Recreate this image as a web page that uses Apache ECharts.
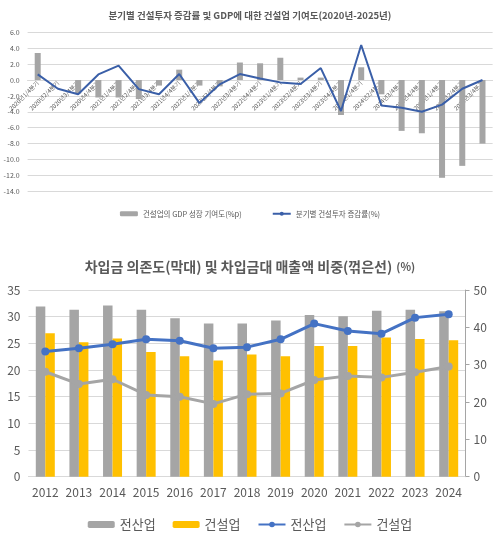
<!DOCTYPE html>
<html><head><meta charset="utf-8">
<script src="https://cdn.jsdelivr.net/npm/echarts@6/dist/echarts.min.js"></script>
<style>html,body{margin:0;padding:0;background:#fff}#c{width:500px;height:542px}</style>
</head><body><div id="c"></div>
<script>
// ---- Top chart data ----
const quarters = ["2020년1/4분기","2020년2/4분기","2020년3/4분기","2020년4/4분기","2021년1/4분기","2021년2/4분기","2021년3/4분기","2021년4/4분기","2022년1/4분기","2022년2/4분기","2022년3/4분기","2022년4/4분기","2023년1/4분기","2023년2/4분기","2023년3/4분기","2023년4/4분기","2024년1/4분기","2024년2/4분기","2024년3/4분기","2024년4/4분기","2025년1/4분기","2025년2/4분기","2025년3/4분기"];
const gdpContribution = [3.4, 0, -1.7, -2.2, -2.2, -2.4, -0.7, 1.3, -0.7, -0.8, 2.2, 2.1, 2.8, 0.3, 0.3, -4.4, 1.6, -1.8, -6.4, -6.7, -12.3, -10.8, -8.0];
const investChange = [0.7, -1.1, -1.8, 0.7, 1.8, -1.15, -1.8, 0.75, -2.9, -0.55, 0.75, 0.2, -0.3, -0.5, 1.5, -3.9, 4.4, -3.2, -3.5, -4.0, -3.1, -1.1, 0.0];
const topTicks = {min:-14, max:6, interval:2};

// ---- Bottom chart data ----
const years = ["2012","2013","2014","2015","2016","2017","2018","2019","2020","2021","2022","2023","2024"];
const debtAll = [31.9, 31.3, 32.1, 31.3, 29.7, 28.7, 28.7, 29.3, 30.3, 30.1, 31.1, 31.3, 31.0];
const debtConst = [26.9, 25.2, 25.9, 23.4, 22.6, 21.8, 22.9, 22.6, 24.5, 24.5, 26.1, 25.8, 25.6];
const ratioAll = [33.5, 34.4, 35.5, 36.8, 36.4, 34.4, 34.7, 36.8, 41.0, 39.0, 38.3, 42.6, 43.5];
const ratioConst = [28.1, 24.8, 26.1, 21.9, 21.4, 19.5, 22.1, 22.3, 25.9, 27.0, 26.6, 28.0, 29.5];

const FONT = '"Noto Sans CJK KR", "Noto Sans", sans-serif';
const TXT = '#595959';
const GRAY = '#A5A5A5';
const YEL = '#FFC000';
const BLUE = '#4472C4';
const GRID = '#D9D9D9';

const topGrid = {left:27.6, width:465, top:32.3, height:159};
// place the category axis on the zero line of the value axis
const zeroOffset = -topGrid.height * (0 - topTicks.min) / (topTicks.max - topTicks.min);

const chart = echarts.init(document.getElementById('c'), null, {renderer:'canvas'});
chart.setOption({
  animation:false,
  textStyle:{fontFamily:FONT},
  title:[
    {text:'분기별 건설투자 증감률 및 GDP에 대한 건설업 기여도(2020년-2025년)', left:'center', top:6,
     textStyle:{fontSize:9.5, fontWeight:'bold', color:TXT, fontFamily:FONT}},
    {text:'{a|차입금 의존도(막대) 및 차입금대 매출액 비중(꺾은선)} {b|(%)}', left:'center', top:253,
     textStyle:{rich:{a:{fontSize:14, fontWeight:'bold', color:TXT, fontFamily:FONT},
                      b:{fontSize:11, fontWeight:'bold', color:TXT, fontFamily:FONT}}}}
  ],
  legend:[
    {data:['건설업의 GDP 성장 기여도(%p)','분기별 건설투자 증감률(%)'], top:205, left:'center',
     itemWidth:18, itemHeight:5, itemGap:30, textStyle:{fontSize:7.5, color:TXT, fontFamily:FONT}},
    {data:['전산업_bar','건설업_bar','전산업_line','건설업_line'], top:513, left:'center',
     itemWidth:27, itemHeight:7, itemGap:17, textStyle:{fontSize:13, color:TXT, fontFamily:FONT},
     formatter:function(n){return n.split('_')[0];}}
  ],
  grid:[
    topGrid,
    {left:28.5, width:437, top:290, height:186.7}
  ],
  xAxis:[
    {type:'category', gridIndex:0, data:quarters, offset:zeroOffset,
     axisLine:{show:true, onZero:false, lineStyle:{color:GRID}}, axisTick:{show:false},
     axisLabel:{interval:0, rotate:45, fontSize:6, color:TXT, margin:2, fontFamily:FONT}},
    {type:'category', gridIndex:1, data:years,
     axisLine:{show:true, lineStyle:{color:GRID}}, axisTick:{show:false},
     axisLabel:{interval:0, fontSize:12, color:TXT, margin:10, fontFamily:FONT}}
  ],
  yAxis:[
    {type:'value', gridIndex:0, min:topTicks.min, max:topTicks.max, interval:topTicks.interval,
     axisLabel:{fontSize:7, color:TXT, margin:8, formatter:function(v){return v.toFixed(1);}},
     splitLine:{lineStyle:{color:GRID}}, axisLine:{show:false}, axisTick:{show:false}},
    {type:'value', gridIndex:1, min:0, max:35, interval:5,
     axisLabel:{fontSize:12, color:TXT, margin:8},
     splitLine:{lineStyle:{color:GRID}}, axisLine:{show:false}, axisTick:{show:false}},
    {type:'value', gridIndex:1, min:0, max:50, interval:10, position:'right',
     axisLabel:{fontSize:12, color:TXT, margin:8},
     splitLine:{show:false}, axisLine:{show:true, lineStyle:{color:GRAY}},
     axisTick:{show:true, length:4, lineStyle:{color:GRAY}}}
  ],
  series:[
    {name:'건설업의 GDP 성장 기여도(%p)', type:'bar', xAxisIndex:0, yAxisIndex:0, data:gdpContribution,
     barWidth:6, itemStyle:{color:GRAY}},
    {name:'분기별 건설투자 증감률(%)', type:'line', xAxisIndex:0, yAxisIndex:0, data:investChange,
     symbol:'none', lineStyle:{color:'#3A5FA8', width:2}, itemStyle:{color:'#3A5FA8'}, z:5},
    {name:'전산업_bar', type:'bar', xAxisIndex:1, yAxisIndex:1, data:debtAll,
     barWidth:9.5, barGap:'0%', itemStyle:{color:GRAY}},
    {name:'건설업_bar', type:'bar', xAxisIndex:1, yAxisIndex:1, data:debtConst,
     barWidth:9.5, barGap:'0%', itemStyle:{color:YEL}},
    {name:'전산업_line', type:'line', xAxisIndex:1, yAxisIndex:2, data:ratioAll,
     symbol:'circle', symbolSize:8, lineStyle:{color:BLUE, width:3}, itemStyle:{color:BLUE}, z:5},
    {name:'건설업_line', type:'line', xAxisIndex:1, yAxisIndex:2, data:ratioConst,
     symbol:'circle', symbolSize:8, lineStyle:{color:GRAY, width:3}, itemStyle:{color:GRAY}, z:5}
  ]
});
</script></body></html>
